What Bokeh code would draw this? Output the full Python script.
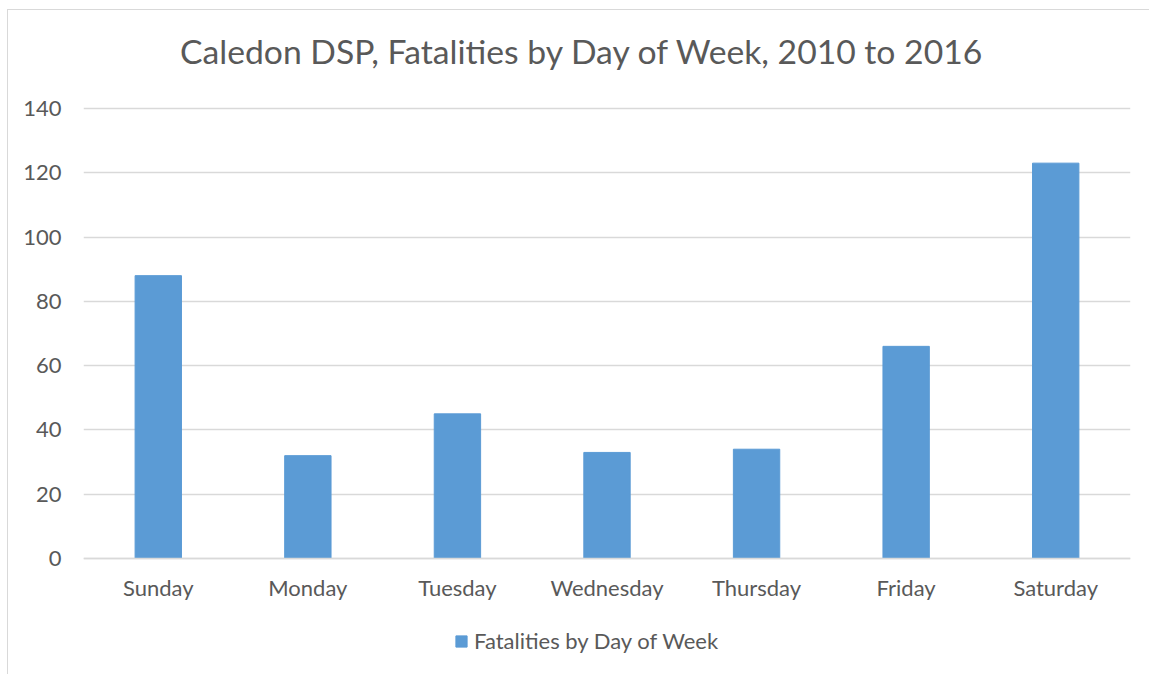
from bokeh.plotting import figure
from bokeh.models import Legend, LegendItem, ColumnDataSource, FixedTicker, Range1d, Label
from bokeh.embed import file_html
from bokeh.resources import INLINE

days = ["Sunday", "Monday", "Tuesday", "Wednesday", "Thursday", "Friday", "Saturday"]
fatalities = [88, 32, 45, 33, 34, 66, 123]
y_ticks = [0, 20, 40, 60, 80, 100, 120, 140]
series_name = "Fatalities by Day of Week"
title_text = "Caledon DSP, Fatalities by Day of Week, 2010 to 2016"

FONT = "Lato"
TXT = "#595959"
GRID = "#D9D9D9"
BAR = "#5B9BD5"

src = ColumnDataSource(dict(day=days, val=fatalities))

# frame spans the whole canvas height; the value axis 0..140 occupies the middle
p = figure(x_range=days, y_range=Range1d(-36.09, 170.49),
           frame_width=1047, frame_height=664,
           output_backend="svg", toolbar_location=None,
           min_border_left=75, min_border_right=19, min_border_top=0, min_border_bottom=0)
p.styles = {"border-left": "1px solid #D9D9D9", "border-top": "1px solid #D9D9D9",
            "margin-left": "7px", "margin-top": "9px"}

r = p.vbar(x="day", top="val", bottom=0, width=0.31, source=src,
           fill_color=BAR, line_color=BAR)

p.add_layout(Label(x=3.336, y=157.8, text=title_text, text_align="center",
                   text_baseline="alphabetic", text_font=FONT, text_font_size="33.7px",
                   text_color=TXT))

p.outline_line_color = None
p.xgrid.grid_line_color = None
p.ygrid.grid_line_color = GRID
p.ygrid.grid_line_width = 1.5
p.yaxis.ticker = FixedTicker(ticks=y_ticks)
for ax in (p.xaxis[0], p.yaxis[0]):
    ax.major_tick_line_color = None
    ax.minor_tick_line_color = None
    ax.major_label_text_font = FONT
    ax.major_label_text_font_size = "22px"
    ax.major_label_text_color = TXT
p.yaxis.axis_line_color = None
p.yaxis.major_label_standoff = 16
p.xaxis.fixed_location = 0
p.xaxis.axis_line_color = GRID
p.xaxis.axis_line_width = 1.5
p.xaxis.major_label_standoff = 10

legend = Legend(items=[LegendItem(label=series_name, renderers=[r])],
                orientation="horizontal", location=(371, 20),
                label_text_font=FONT, label_text_font_size="22px", label_text_color=TXT,
                glyph_width=14, glyph_height=14, label_standoff=6,
                border_line_color=None, background_fill_alpha=0, margin=0, padding=0)
p.add_layout(legend, "center")

open("out.html", "w").write(file_html(p, INLINE))
